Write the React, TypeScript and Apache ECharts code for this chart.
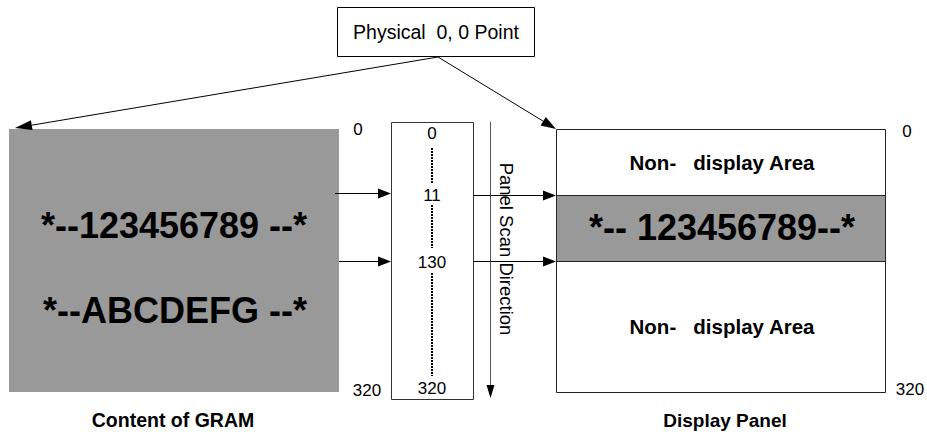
import React, { useEffect, useRef } from "react";
import * as echarts from "echarts";

const topLabel = "Physical  0, 0 Point";
const gramRows = ["*--123456789 --*", "*--ABCDEFG --*"];
const gramTitle = "Content of GRAM";
const scanLabels = ["0", "11", "130", "320"];
const scanTitle = "Panel Scan Direction";
const panelRows = ["Non-   display Area", "*-- 123456789--*", "Non-   display Area"];
const panelTitle = "Display Panel";
const edgeLabels = ["0", "320"];

const FONT = "'Liberation Sans', Arial, Helvetica, sans-serif";

function txt(text: string, x: number, y: number, size: number, bold = false, extra: any = {}) {
  return {
    type: "text",
    x,
    y,
    z: 10,
    ...extra,
    style: {
      text,
      fill: "#000",
      fontSize: size,
      fontFamily: FONT,
      fontWeight: bold ? "bold" : "normal",
      align: "center",
      textAlign: "center",
      verticalAlign: "middle",
      textVerticalAlign: "middle",
    },
  };
}

function arrow(x1: number, y1: number, x2: number, y2: number, L = 13, W = 5, color = "#000", width = 1) {
  const dx = x2 - x1;
  const dy = y2 - y1;
  const len = Math.sqrt(dx * dx + dy * dy);
  const ux = dx / len;
  const uy = dy / len;
  const bx = x2 - ux * L;
  const by = y2 - uy * L;
  const px = -uy * W;
  const py = ux * W;
  return [
    {
      type: "line",
      z: 5,
      shape: { x1, y1, x2: bx, y2: by },
      style: { stroke: color, lineWidth: width },
    },
    {
      type: "polygon",
      z: 5,
      shape: { points: [[x2, y2], [bx + px, by + py], [bx - px, by - py]] },
      style: { fill: "#000" },
    },
  ];
}

function line(x1: number, y1: number, x2: number, y2: number, color = "#000", width = 1, dash?: number[]) {
  return {
    type: "line",
    z: 5,
    shape: { x1, y1, x2, y2 },
    style: { stroke: color, lineWidth: width, lineDash: dash },
  };
}

export default function App() {
  const ref = useRef<HTMLDivElement>(null);

  useEffect(() => {
    if (!ref.current) return;
    const chart = echarts.init(ref.current, null, { renderer: "svg" });

    const scanY = [133, 195, 262, 388];
    const elements: any[] = [
      // GRAM content
      { type: "rect", z: 1, shape: { x: 9, y: 129, width: 330, height: 263 }, style: { fill: "#999999" } },
      // Display panel
      { type: "rect", z: 1, shape: { x: 556.5, y: 129.5, width: 329, height: 263 }, style: { fill: "#fff", stroke: "#222", lineWidth: 1 } },
      { type: "rect", z: 2, shape: { x: 556.5, y: 195.5, width: 329, height: 66 }, style: { fill: "#999999", stroke: "#222", lineWidth: 1 } },
      // Scan box
      { type: "rect", z: 1, shape: { x: 391.5, y: 122.5, width: 82, height: 277 }, style: { fill: "#fff", stroke: "#333", lineWidth: 1 } },
      // Top box
      { type: "rect", z: 1, shape: { x: 337.5, y: 7.5, width: 197, height: 49 }, style: { fill: "#fff", stroke: "#000", lineWidth: 1 } },

      txt(topLabel, 436, 32, 19.5),
      ...arrow(438, 57, 15, 128, 17, 5),
      ...arrow(438, 57, 556, 129, 15, 5),

      txt(gramRows[0], 174, 225, 36, true),
      txt(gramRows[1], 175, 310, 36, true),
      txt(gramTitle, 173, 420, 19.5, true),

      txt(edgeLabels[0], 358, 129, 17),
      txt(edgeLabels[1], 367, 390, 17),

      ...scanLabels.map((s, i) => txt(s, 432, scanY[i], 17)),
      line(432, 148, 432, 183, "#000", 2, [2, 1]),
      line(432, 205, 432, 248, "#000", 2, [2, 1]),
      line(432, 273, 432, 376, "#000", 2, [2, 1]),

      ...arrow(335, 193.5, 391, 193.5, 13, 5),
      ...arrow(339, 261.5, 391, 261.5, 13, 5),

      ...arrow(490.5, 122, 490.5, 398, 13, 4, "#555"),
      txt(scanTitle, 506, 249, 18.5, false, { rotation: -Math.PI / 2 }),

      ...arrow(473, 195.5, 556, 195.5, 13, 5),
      ...arrow(473, 261.5, 556, 261.5, 13, 5),

      txt(panelRows[0], 722, 162, 20.5, true),
      txt(panelRows[1], 722, 227, 36, true),
      txt(panelRows[2], 722, 326, 20.5, true),
      txt(panelTitle, 725, 420, 19, true),

      txt(edgeLabels[0], 907, 131, 17),
      txt(edgeLabels[1], 910, 389, 17),
    ];

    chart.setOption({
      animation: false,
      backgroundColor: "#fff",
      graphic: { elements },
    });

    return () => chart.dispose();
  }, []);

  return (
    <div
      ref={ref}
      style={{ position: "fixed", left: 0, top: 0, width: 927, height: 435 }}
    />
  );
}
